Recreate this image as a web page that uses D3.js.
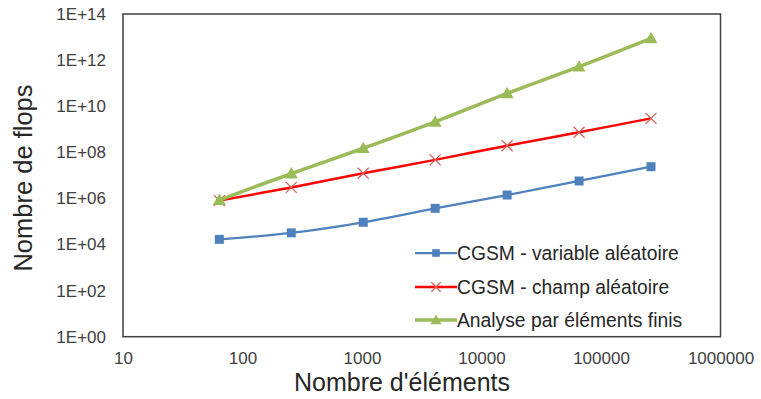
<!DOCTYPE html>
<html><head><meta charset="utf-8">
<script src="https://cdn.jsdelivr.net/npm/d3@7"></script>
<style>
html,body{margin:0;padding:0;background:#fff;}
text{font-family:Arial,"Liberation Sans",sans-serif;}
</style></head>
<body><svg id="c" width="761" height="399"></svg>
<script>
const elements = [64, 256, 1024, 4096, 16384, 65536, 262144];
const cgsmVariable = [1.67e4, 3.2e4, 9.2e4, 3.7e5, 1.4e6, 5.7e6, 2.37e7];
const cgsmChamp = [8.0e5, 3.0e6, 1.23e7, 4.7e7, 1.94e8, 7.4e8, 2.97e9];
const elementsFinis = [8.5e5, 1.2e7, 1.5e8, 2.1e9, 3.6e10, 5.2e11, 8.8e12];
const xTicks = [10, 100, 1000, 10000, 100000, 1000000];
const yTicks = [1e0, 1e2, 1e4, 1e6, 1e8, 1e10, 1e12, 1e14];
const seriesNames = ["CGSM - variable aléatoire", "CGSM - champ aléatoire", "Analyse par éléments finis"];

const svg = d3.select("#c");
const L = 123, R = 720.5, T = 14, B = 336.7;
const x = d3.scaleLog().domain([10, 1e6]).range([L, R]);
const y = d3.scaleLog().domain([1, 1e14]).range([B, T]);

const yFmt = v => { const e = Math.round(Math.log10(v)); return "1E+" + (e < 10 ? "0" + e : e); };

// axes (labels only)
const gx = svg.append("g").attr("transform", `translate(0,${B})`)
  .call(d3.axisBottom(x).tickValues(xTicks).tickFormat(d3.format("d")).tickSize(0).tickPadding(15));
gx.select(".domain").remove();
gx.selectAll("text").attr("font-size", 17).attr("fill", "#404040").style("font-family","Arial,'Liberation Sans',sans-serif");
const gy = svg.append("g").attr("transform", `translate(${L},0)`)
  .call(d3.axisLeft(y).tickValues(yTicks).tickFormat(yFmt).tickSize(0).tickPadding(17));
gy.select(".domain").remove();
gy.selectAll("text").attr("font-size", 17).attr("fill", "#404040").style("font-family","Arial,'Liberation Sans',sans-serif");

// frame
svg.append("rect").attr("x", L).attr("y", T).attr("width", R - L).attr("height", B - T)
  .attr("fill", "none").attr("stroke", "#404040").attr("stroke-width", 1.5);

const series = [
  {name: seriesNames[0], vals: cgsmVariable, color: "#4F81BD", marker: "#4F81BD", sym: "square", w: 2.25},
  {name: seriesNames[1], vals: cgsmChamp, color: "#FF0000", marker: "#D9605C", sym: "cross", w: 2.5},
  {name: seriesNames[2], vals: elementsFinis, color: "#9BBB59", marker: "#9BBB59", sym: "triangle", w: 3.5}
];

function drawMarker(g, s, cx, cy, scale) {
  const k = scale || 1;
  if (s.sym === "square") {
    const h = 4.5 * k;
    g.append("rect").attr("x", cx - h).attr("y", cy - h).attr("width", 2 * h).attr("height", 2 * h).attr("fill", s.marker);
  } else if (s.sym === "cross") {
    const h = 5.5 * k;
    g.append("path").attr("d", `M${cx-h},${cy-h}L${cx+h},${cy+h}M${cx-h},${cy+h}L${cx+h},${cy-h}`)
      .attr("stroke", s.marker).attr("stroke-width", 1.3).attr("fill", "none");
  } else {
    const h = 6.5 * k;
    g.append("path").attr("d", `M${cx},${cy-h}L${cx+h},${cy+h*0.75}L${cx-h},${cy+h*0.75}Z`).attr("fill", s.marker);
  }
}

const line = d3.line().x(d => x(d[0])).y(d => y(d[1])).curve(d3.curveCatmullRom.alpha(0.5));
series.forEach(s => {
  const pts = elements.map((e, i) => [e, s.vals[i]]);
  svg.append("path").attr("d", line(pts)).attr("fill", "none").attr("stroke", s.color).attr("stroke-width", s.w);
  const g = svg.append("g");
  pts.forEach(p => drawMarker(g, s, x(p[0]), y(p[1])));
});

// legend
const legY = [253, 287, 320];
series.forEach((s, i) => {
  const g = svg.append("g");
  g.append("line").attr("x1", 415).attr("x2", 457).attr("y1", legY[i]).attr("y2", legY[i])
    .attr("stroke", s.color).attr("stroke-width", s.w);
  drawMarker(g, s, 436, legY[i], 0.85);
  g.append("text").attr("x", 457).attr("y", legY[i]).attr("dy", "0.35em").attr("font-size", 19.3)
    .attr("fill", "#262626").text(s.name);
});

// axis titles
svg.append("text").attr("x", 402).attr("y", 391).attr("text-anchor", "middle")
  .attr("font-size", 25).attr("fill", "#262626").text("Nombre d'éléments");
svg.append("text").attr("transform", `translate(32,178) rotate(-90)`).attr("text-anchor", "middle")
  .attr("font-size", 25.5).attr("fill", "#262626").text("Nombre de flops");
</script></body></html>
